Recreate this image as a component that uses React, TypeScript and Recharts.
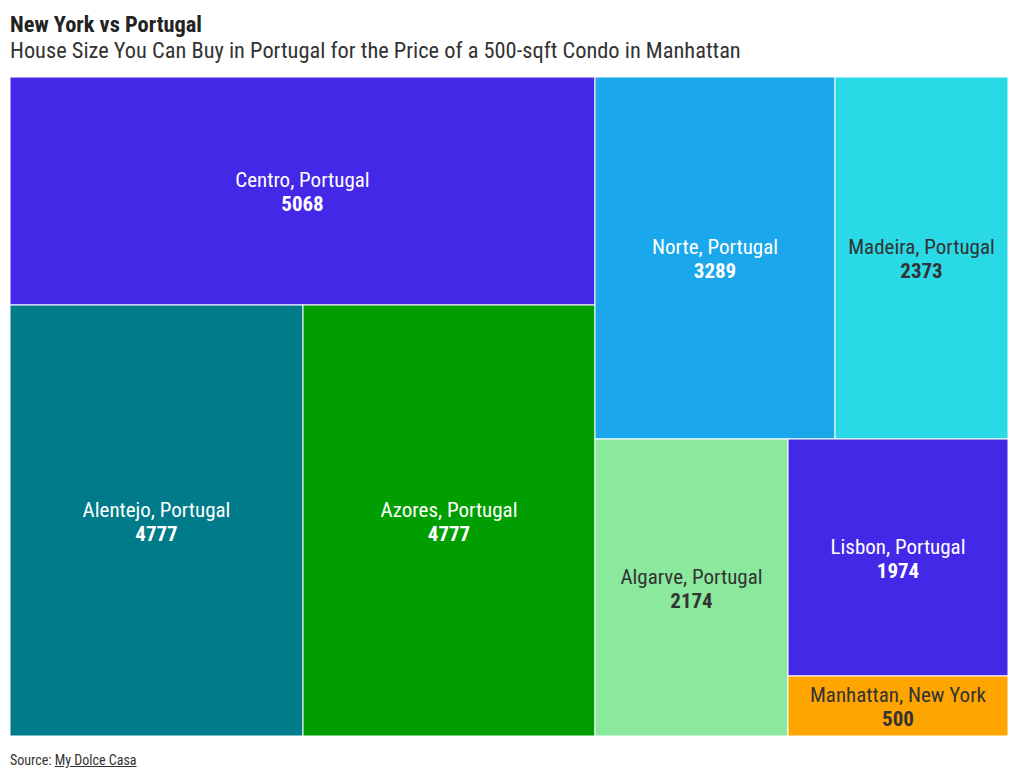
import { Treemap } from 'recharts';

// regions and their sizes (sqft for the price of 500 sqft in Manhattan)
const regions = [
  'Centro, Portugal',
  'Alentejo, Portugal',
  'Azores, Portugal',
  'Norte, Portugal',
  'Madeira, Portugal',
  'Algarve, Portugal',
  'Lisbon, Portugal',
  'Manhattan, New York',
];
const sizes = [5068, 4777, 4777, 3289, 2373, 2174, 1974, 500];
const fills = ['#4328e7', '#007b8a', '#009e00', '#1ba7ec', '#29d9e5', '#8ae99c', '#4328e7', '#ffa500'];
const darkText = [false, false, false, false, true, true, false, true];

const leaf = (i: number) => ({ name: regions[i], size: sizes[i], fill: fills[i], dark: darkText[i] });

// grouping so the squarify pass gives the same arrangement as the original
const data = [
  {
    name: 'west',
    children: [leaf(0), { name: 'south-west', children: [leaf(1), leaf(2)] }],
  },
  {
    name: 'east',
    children: [
      { name: 'north-east', children: [leaf(3), leaf(4)] },
      {
        name: 'south-east',
        children: [leaf(5), { name: 'city', children: [leaf(6), leaf(7)] }],
      },
    ],
  },
];

const FONT = '"Roboto Condensed", "Liberation Sans Narrow", "DejaVu Sans Condensed", Roboto, sans-serif';

function Cell(props: any) {
  const { x, y, width, height, children, name, size, fill, dark } = props;
  if (children && children.length) return null;
  if (!width || !height) return null;
  const cx = x + width / 2;
  const cy = y + height / 2;
  const color = dark ? '#333333' : '#ffffff';
  return (
    <g>
      <rect x={x} y={y} width={width} height={height} fill={fill} stroke="#ffffff" strokeWidth={1} />
      <text x={cx} y={cy - 4} textAnchor="middle" fill={color} fontSize={21} fontFamily={FONT}>
        {name}
      </text>
      <text x={cx} y={cy + 20} textAnchor="middle" fill={color} fontSize={21} fontWeight="bold" fontFamily={FONT}>
        {size}
      </text>
    </g>
  );
}

export default function App() {
  return (
    <div style={{ fontFamily: FONT, color: '#222', paddingLeft: 2, width: 1000 }}>
      <div style={{ fontWeight: 'bold', fontSize: 22.4, lineHeight: '26px', marginTop: 3 }}>New York vs Portugal</div>
      <div style={{ fontSize: 22.4, lineHeight: '26px', color: '#333', marginBottom: 14 }}>
        House Size You Can Buy in Portugal for the Price of a 500-sqft Condo in Manhattan
      </div>
      <Treemap
        width={998}
        height={659}
        data={data}
        dataKey="size"
        nameKey="name"
        aspectRatio={1}
        isAnimationActive={false}
        content={<Cell />}
      />
      <div style={{ fontSize: 14, color: '#333', marginTop: 16 }}>
        Source: <span style={{ textDecoration: 'underline' }}>My Dolce Casa</span>
      </div>
    </div>
  );
}
